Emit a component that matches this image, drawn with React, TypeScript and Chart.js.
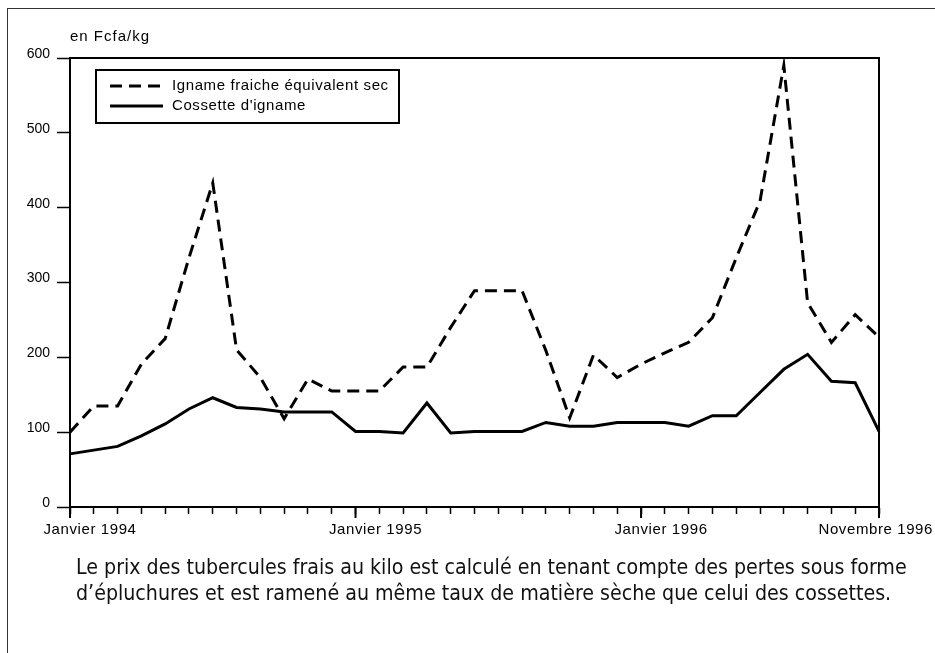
import React, { useEffect, useRef } from "react";
import { Chart, registerables } from "chart.js";

Chart.register(...registerables);

// Monthly categories, January 1994 to November 1996
const months = [
  "1994-01", "1994-02", "1994-03", "1994-04", "1994-05", "1994-06",
  "1994-07", "1994-08", "1994-09", "1994-10", "1994-11", "1994-12",
  "1995-01", "1995-02", "1995-03", "1995-04", "1995-05", "1995-06",
  "1995-07", "1995-08", "1995-09", "1995-10", "1995-11", "1995-12",
  "1996-01", "1996-02", "1996-03", "1996-04", "1996-05", "1996-06",
  "1996-07", "1996-08", "1996-09", "1996-10", "1996-11",
];

// Igname fraîche équivalent sec (Fcfa/kg)
const freshYam = [
  100, 135, 135, 191, 225, 333, 433, 210, 173, 118, 171, 155,
  155, 155, 187, 187, 240, 289, 289, 289, 209, 119, 203, 173,
  191, 206, 220, 253, 333, 409, 590, 273, 220, 257, 227,
];

// Cossette d'igname (Fcfa/kg)
const chips = [
  71, 76, 81, 95, 111, 131, 146, 133, 131, 127, 127, 127,
  101, 101, 99, 139, 99, 101, 101, 101, 113, 108, 108, 113,
  113, 113, 108, 122, 122, 153, 184, 204, 168, 166, 101,
];

const seriesNames = ["Igname fraiche équivalent sec", "Cossette d'igname"];

const xLabelIndices = [0, 12, 24, 34];
const xLabelTexts = ["Janvier 1994", "Janvier 1995", "Janvier 1996", "Novembre 1996"];

const unitLabel = "en Fcfa/kg";

const captionLines = [
  "Le prix des tubercules frais au kilo est calculé en tenant compte des pertes sous forme",
  "d\u2019épluchures et est ramené au même taux de matière sèche que celui des cossettes.",
];

const FONT = "'Liberation Sans', Arial, sans-serif";

const decorPlugin = {
  id: "decor",
  afterDraw(chart: any) {
    const { ctx, chartArea: a, scales } = chart;
    const xs = scales.x;
    ctx.save();
    ctx.strokeStyle = "#000";
    ctx.fillStyle = "#000";
    ctx.lineWidth = 2;
    // top and right frame of plot
    ctx.beginPath();
    ctx.moveTo(a.left, a.top);
    ctx.lineTo(a.right, a.top);
    ctx.lineTo(a.right, a.bottom + 11);
    ctx.stroke();
    // major ticks
    xLabelIndices.forEach((idx) => {
      const px = xs.getPixelForValue(idx);
      ctx.beginPath();
      ctx.moveTo(px, a.bottom);
      ctx.lineTo(px, a.bottom + 11);
      ctx.stroke();
    });
    // x labels
    ctx.font = "15px " + FONT;
    (ctx as any).letterSpacing = "0.6px";
    ctx.textBaseline = "middle";
    xLabelIndices.forEach((idx, i) => {
      const px = xs.getPixelForValue(idx);
      if (i === xLabelIndices.length - 1) {
        ctx.textAlign = "right";
        ctx.fillText(xLabelTexts[i], chart.width - 2, a.bottom + 23);
      } else {
        ctx.textAlign = "center";
        ctx.fillText(xLabelTexts[i], px + 20, a.bottom + 23);
      }
    });
    // unit label
    (ctx as any).letterSpacing = "1px";
    ctx.textAlign = "left";
    ctx.fillText(unitLabel, a.left, a.top - 21);
    // legend
    (ctx as any).letterSpacing = "0.6px";
    const bx = a.left + 26, by = a.top + 12, bw = 303, bh = 53;
    ctx.lineWidth = 2;
    ctx.strokeRect(bx, by, bw, bh);
    chart.data.datasets.forEach((ds: any, i: number) => {
      const ly = by + 16 + i * 20;
      ctx.save();
      ctx.lineWidth = 3;
      ctx.setLineDash(ds.borderDash || []);
      ctx.beginPath();
      ctx.moveTo(bx + 14, ly);
      ctx.lineTo(bx + 67, ly);
      ctx.stroke();
      ctx.restore();
      ctx.textAlign = "left";
      ctx.fillText(ds.label, bx + 76, ly);
    });
    (ctx as any).letterSpacing = "0px";
    ctx.restore();
  },
};

export default function App() {
  const ref = useRef<HTMLCanvasElement | null>(null);
  useEffect(() => {
    if (!ref.current) return;
    const chart = new Chart(ref.current, {
      type: "line",
      data: {
        labels: months,
        datasets: [
          {
            label: seriesNames[0],
            data: freshYam,
            borderColor: "#000",
            borderWidth: 3,
            borderDash: [12, 7],
            pointRadius: 0,
            tension: 0,
            fill: false,
          },
          {
            label: seriesNames[1],
            data: chips,
            borderColor: "#000",
            borderWidth: 3,
            pointRadius: 0,
            tension: 0,
            fill: false,
          },
        ],
      },
      options: {
        animation: false,
        responsive: false,
        maintainAspectRatio: false,
        events: [],
        layout: { padding: { left: 0, top: 58, right: 56, bottom: 106 } },
        plugins: {
          legend: { display: false },
          title: { display: false },
          tooltip: { enabled: false },
        },
        scales: {
          x: {
            type: "category",
            offset: false,
            afterFit: (s: any) => { s.height = 40; },
            border: { display: true, color: "#000", width: 2 },
            grid: {
              display: true,
              drawOnChartArea: false,
              drawTicks: true,
              tickLength: 7,
              tickColor: "#000",
              tickWidth: 1.5,
            },
            ticks: { display: false, autoSkip: false },
          },
          y: {
            min: 0,
            max: 600,
            afterFit: (s: any) => { s.width = 70; },
            border: { display: true, color: "#000", width: 2 },
            grid: {
              display: true,
              drawOnChartArea: false,
              drawTicks: true,
              tickLength: 13,
              tickColor: "#000",
              tickWidth: 1.5,
            },
            ticks: {
              stepSize: 100,
              color: "#000",
              padding: 7,
              labelOffset: -4,
              font: { family: FONT, size: 14 },
            },
          },
        },
      },
      plugins: [decorPlugin],
    });
    return () => chart.destroy();
  }, []);

  return (
    <div style={{ position: "fixed", left: 0, top: 0, width: 935, height: 653, background: "#fff", overflow: "hidden" }}>
      <div
        style={{
          position: "absolute",
          left: 7,
          top: 8,
          width: 940,
          height: 660,
          borderLeft: "1px solid #333",
          borderTop: "1px solid #333",
        }}
      />
      <canvas ref={ref} width={935} height={653} style={{ position: "absolute", left: 0, top: 0, width: 935, height: 653 }} />
      <div
        style={{
          position: "absolute",
          left: 76,
          top: 554,
          fontFamily: "'Liberation Sans Narrow', 'DejaVu Sans Condensed', 'Liberation Sans', sans-serif",
          fontSize: 21.2,
          lineHeight: "26px",
          color: "#111",
          whiteSpace: "nowrap",
        }}
      >
        {captionLines.map((l, i) => (
          <div key={i}>{l}</div>
        ))}
      </div>
    </div>
  );
}
